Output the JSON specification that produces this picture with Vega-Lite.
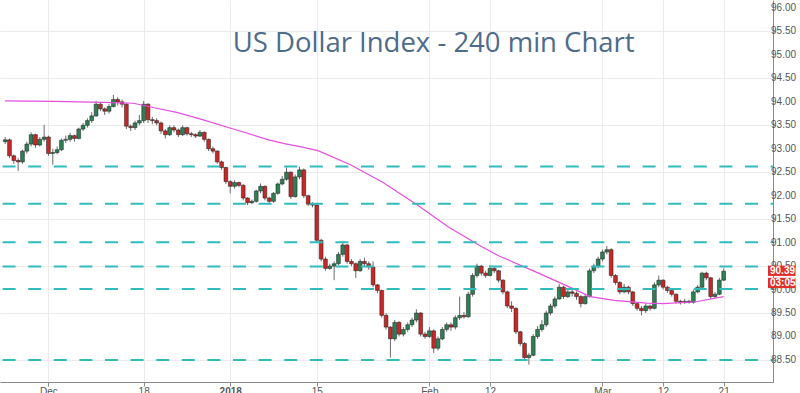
{
  "$schema": "https://vega.github.io/schema/vega-lite/v6.json",
  "width": 773,
  "height": 382,
  "autosize": {"type": "none"},
  "padding": {"left": 0, "top": 0, "right": 27, "bottom": 11},
  "background": "#ffffff",
  "config": {"view": {"stroke": null}, "font": "Liberation Sans"},
  "datasets": {
    "candles": [
      {"d":-5,"o":93.15,"h":93.25,"l":93.1,"c":93.19},
      {"d":-4.5,"o":93.19,"h":93.22,"l":92.8,"c":92.85},
      {"d":-4,"o":92.85,"h":92.88,"l":92.68,"c":92.75},
      {"d":-3.5,"o":92.75,"h":92.8,"l":92.53,"c":92.72},
      {"d":-3,"o":92.72,"h":92.98,"l":92.68,"c":92.95},
      {"d":-2.5,"o":92.95,"h":93.15,"l":92.9,"c":93.1},
      {"d":-2,"o":93.1,"h":93.35,"l":93.05,"c":93.3},
      {"d":-1.5,"o":93.3,"h":93.32,"l":93.02,"c":93.08},
      {"d":-1,"o":93.08,"h":93.25,"l":93.05,"c":93.2},
      {"d":-0.5,"o":93.2,"h":93.51,"l":93.15,"c":93.25},
      {"d":0,"o":93.25,"h":93.28,"l":92.85,"c":92.9},
      {"d":0.5,"o":92.9,"h":93.0,"l":92.66,"c":92.92},
      {"d":1,"o":92.92,"h":93.05,"l":92.88,"c":92.98},
      {"d":1.5,"o":92.98,"h":93.22,"l":92.95,"c":93.18},
      {"d":2,"o":93.18,"h":93.28,"l":93.12,"c":93.2},
      {"d":2.5,"o":93.2,"h":93.34,"l":93.15,"c":93.28},
      {"d":3,"o":93.28,"h":93.3,"l":93.15,"c":93.22},
      {"d":3.5,"o":93.22,"h":93.45,"l":93.2,"c":93.42},
      {"d":4,"o":93.42,"h":93.55,"l":93.38,"c":93.5},
      {"d":4.5,"o":93.5,"h":93.65,"l":93.45,"c":93.6},
      {"d":5,"o":93.6,"h":93.78,"l":93.55,"c":93.7},
      {"d":5.5,"o":93.7,"h":94.02,"l":93.68,"c":93.95},
      {"d":6,"o":93.95,"h":94.0,"l":93.8,"c":93.85},
      {"d":6.5,"o":93.85,"h":93.88,"l":93.72,"c":93.8},
      {"d":7,"o":93.8,"h":93.95,"l":93.75,"c":93.9},
      {"d":7.5,"o":93.9,"h":94.15,"l":93.88,"c":94.05},
      {"d":8,"o":94.05,"h":94.1,"l":93.92,"c":94.0},
      {"d":8.5,"o":94.0,"h":94.05,"l":93.88,"c":93.95},
      {"d":9,"o":93.95,"h":93.98,"l":93.42,"c":93.48},
      {"d":9.5,"o":93.48,"h":93.52,"l":93.38,"c":93.45},
      {"d":10,"o":93.45,"h":93.6,"l":93.4,"c":93.55},
      {"d":10.5,"o":93.55,"h":93.72,"l":93.5,"c":93.6},
      {"d":11,"o":93.6,"h":94.02,"l":93.55,"c":93.95},
      {"d":11.5,"o":93.95,"h":93.97,"l":93.55,"c":93.62},
      {"d":12,"o":93.62,"h":93.68,"l":93.52,"c":93.6},
      {"d":12.5,"o":93.6,"h":93.65,"l":93.5,"c":93.55},
      {"d":13,"o":93.55,"h":93.58,"l":93.32,"c":93.38},
      {"d":13.5,"o":93.38,"h":93.42,"l":93.22,"c":93.3},
      {"d":14,"o":93.3,"h":93.5,"l":93.27,"c":93.45},
      {"d":14.5,"o":93.45,"h":93.5,"l":93.35,"c":93.4},
      {"d":15,"o":93.4,"h":93.43,"l":93.25,"c":93.3},
      {"d":15.5,"o":93.3,"h":93.5,"l":93.27,"c":93.45},
      {"d":16,"o":93.45,"h":93.47,"l":93.28,"c":93.32},
      {"d":16.5,"o":93.32,"h":93.36,"l":93.25,"c":93.3},
      {"d":17,"o":93.3,"h":93.33,"l":93.23,"c":93.27},
      {"d":17.5,"o":93.27,"h":93.4,"l":93.25,"c":93.35},
      {"d":18,"o":93.35,"h":93.37,"l":93.15,"c":93.2},
      {"d":18.5,"o":93.2,"h":93.22,"l":92.95,"c":93.0},
      {"d":19,"o":93.0,"h":93.05,"l":92.9,"c":92.95},
      {"d":19.5,"o":92.95,"h":92.97,"l":92.68,"c":92.72},
      {"d":20,"o":92.72,"h":92.75,"l":92.55,"c":92.6},
      {"d":20.5,"o":92.6,"h":92.62,"l":92.25,"c":92.3},
      {"d":21,"o":92.3,"h":92.33,"l":92.05,"c":92.2},
      {"d":21.5,"o":92.2,"h":92.33,"l":92.15,"c":92.28},
      {"d":22,"o":92.28,"h":92.3,"l":92.18,"c":92.22},
      {"d":22.5,"o":92.22,"h":92.25,"l":91.9,"c":91.95},
      {"d":23,"o":91.95,"h":91.97,"l":91.8,"c":91.85},
      {"d":23.5,"o":91.85,"h":91.92,"l":91.82,"c":91.88},
      {"d":24,"o":91.88,"h":92.13,"l":91.85,"c":92.1},
      {"d":24.5,"o":92.1,"h":92.26,"l":92.05,"c":92.2},
      {"d":25,"o":92.2,"h":92.22,"l":91.9,"c":91.95},
      {"d":25.5,"o":91.95,"h":91.98,"l":91.83,"c":91.88},
      {"d":26,"o":91.88,"h":92.08,"l":91.85,"c":92.05},
      {"d":26.5,"o":92.05,"h":92.28,"l":92.02,"c":92.25},
      {"d":27,"o":92.25,"h":92.42,"l":92.22,"c":92.35},
      {"d":27.5,"o":92.35,"h":92.6,"l":92.32,"c":92.5},
      {"d":28,"o":92.5,"h":92.52,"l":91.93,"c":91.98},
      {"d":28.5,"o":91.98,"h":92.45,"l":91.96,"c":92.4},
      {"d":29,"o":92.4,"h":92.62,"l":92.35,"c":92.55},
      {"d":29.5,"o":92.55,"h":92.58,"l":91.95,"c":92.0},
      {"d":30,"o":92.0,"h":92.02,"l":91.78,"c":91.82},
      {"d":30.5,"o":91.82,"h":91.86,"l":91.75,"c":91.8},
      {"d":31,"o":91.8,"h":91.82,"l":91.0,"c":91.05},
      {"d":31.5,"o":91.05,"h":91.08,"l":90.6,"c":90.65},
      {"d":32,"o":90.65,"h":90.7,"l":90.4,"c":90.45},
      {"d":32.5,"o":90.45,"h":90.55,"l":90.42,"c":90.5},
      {"d":33,"o":90.5,"h":90.6,"l":90.2,"c":90.55},
      {"d":33.5,"o":90.55,"h":90.8,"l":90.52,"c":90.75},
      {"d":34,"o":90.75,"h":91.02,"l":90.7,"c":90.95},
      {"d":34.5,"o":90.95,"h":90.97,"l":90.55,"c":90.6},
      {"d":35,"o":90.6,"h":90.65,"l":90.5,"c":90.55},
      {"d":35.5,"o":90.55,"h":90.58,"l":90.25,"c":90.4},
      {"d":36,"o":90.4,"h":90.65,"l":90.38,"c":90.6},
      {"d":36.5,"o":90.6,"h":90.68,"l":90.5,"c":90.55},
      {"d":37,"o":90.55,"h":90.6,"l":90.42,"c":90.48},
      {"d":37.5,"o":90.48,"h":90.6,"l":90.05,"c":90.1},
      {"d":38,"o":90.1,"h":90.12,"l":89.92,"c":89.98},
      {"d":38.5,"o":89.98,"h":90.0,"l":89.4,"c":89.45},
      {"d":39,"o":89.45,"h":89.5,"l":89.15,"c":89.2},
      {"d":39.5,"o":89.2,"h":89.22,"l":88.55,"c":88.95},
      {"d":40,"o":88.95,"h":89.35,"l":88.9,"c":89.3},
      {"d":40.5,"o":89.3,"h":89.33,"l":89.0,"c":89.05},
      {"d":41,"o":89.05,"h":89.2,"l":89.0,"c":89.15},
      {"d":41.5,"o":89.15,"h":89.3,"l":89.1,"c":89.25},
      {"d":42,"o":89.25,"h":89.4,"l":89.2,"c":89.35},
      {"d":42.5,"o":89.35,"h":89.58,"l":89.3,"c":89.5},
      {"d":43,"o":89.5,"h":89.52,"l":89.0,"c":89.05},
      {"d":43.5,"o":89.05,"h":89.1,"l":88.95,"c":89.0},
      {"d":44,"o":89.0,"h":89.2,"l":88.97,"c":89.12},
      {"d":44.5,"o":89.12,"h":89.15,"l":88.65,"c":88.75},
      {"d":45,"o":88.75,"h":89.0,"l":88.7,"c":88.95},
      {"d":45.5,"o":88.95,"h":89.2,"l":88.92,"c":89.15},
      {"d":46,"o":89.15,"h":89.3,"l":89.1,"c":89.25},
      {"d":46.5,"o":89.25,"h":89.3,"l":89.12,"c":89.2},
      {"d":47,"o":89.2,"h":89.45,"l":89.15,"c":89.4},
      {"d":47.5,"o":89.4,"h":89.85,"l":89.35,"c":89.45},
      {"d":48,"o":89.45,"h":89.52,"l":89.38,"c":89.42},
      {"d":48.5,"o":89.42,"h":89.95,"l":89.4,"c":89.9},
      {"d":49,"o":89.9,"h":90.35,"l":89.85,"c":90.3},
      {"d":49.5,"o":90.3,"h":90.55,"l":90.25,"c":90.5},
      {"d":50,"o":90.5,"h":90.52,"l":90.3,"c":90.35},
      {"d":50.5,"o":90.35,"h":90.4,"l":90.25,"c":90.3},
      {"d":51,"o":90.3,"h":90.52,"l":90.28,"c":90.45},
      {"d":51.5,"o":90.45,"h":90.5,"l":90.35,"c":90.4},
      {"d":52,"o":90.4,"h":90.42,"l":90.15,"c":90.2},
      {"d":52.5,"o":90.2,"h":90.22,"l":89.9,"c":89.95},
      {"d":53,"o":89.95,"h":89.98,"l":89.6,"c":89.65},
      {"d":53.5,"o":89.65,"h":89.75,"l":89.52,"c":89.6},
      {"d":54,"o":89.6,"h":89.62,"l":89.05,"c":89.1},
      {"d":54.5,"o":89.1,"h":89.12,"l":88.8,"c":88.85},
      {"d":55,"o":88.85,"h":88.88,"l":88.5,"c":88.55},
      {"d":55.5,"o":88.55,"h":88.65,"l":88.4,"c":88.6},
      {"d":56,"o":88.6,"h":89.05,"l":88.58,"c":89.0},
      {"d":56.5,"o":89.0,"h":89.22,"l":88.95,"c":89.15},
      {"d":57,"o":89.15,"h":89.35,"l":89.1,"c":89.25},
      {"d":57.5,"o":89.25,"h":89.55,"l":89.2,"c":89.5},
      {"d":58,"o":89.5,"h":89.7,"l":89.45,"c":89.65},
      {"d":58.5,"o":89.65,"h":89.85,"l":89.6,"c":89.8},
      {"d":59,"o":89.8,"h":90.12,"l":89.78,"c":90.05},
      {"d":59.5,"o":90.05,"h":90.08,"l":89.8,"c":89.85},
      {"d":60,"o":89.85,"h":90.0,"l":89.82,"c":89.95},
      {"d":60.5,"o":89.95,"h":90.0,"l":89.85,"c":89.92},
      {"d":61,"o":89.92,"h":89.96,"l":89.78,"c":89.85},
      {"d":61.5,"o":89.85,"h":89.88,"l":89.62,"c":89.7},
      {"d":62,"o":89.7,"h":89.9,"l":89.68,"c":89.85},
      {"d":62.5,"o":89.85,"h":90.45,"l":89.83,"c":90.4},
      {"d":63,"o":90.4,"h":90.55,"l":90.35,"c":90.5},
      {"d":63.5,"o":90.5,"h":90.7,"l":90.45,"c":90.65},
      {"d":64,"o":90.65,"h":90.85,"l":90.6,"c":90.8},
      {"d":64.5,"o":90.8,"h":90.93,"l":90.75,"c":90.85},
      {"d":65,"o":90.85,"h":90.88,"l":90.25,"c":90.3},
      {"d":65.5,"o":90.3,"h":90.33,"l":90.1,"c":90.15},
      {"d":66,"o":90.15,"h":90.18,"l":89.9,"c":89.95},
      {"d":66.5,"o":89.95,"h":90.12,"l":89.92,"c":90.05},
      {"d":67,"o":90.05,"h":90.08,"l":89.9,"c":89.95},
      {"d":67.5,"o":89.95,"h":89.97,"l":89.65,"c":89.7},
      {"d":68,"o":89.7,"h":89.72,"l":89.55,"c":89.6},
      {"d":68.5,"o":89.6,"h":89.65,"l":89.45,"c":89.55},
      {"d":69,"o":89.55,"h":89.7,"l":89.5,"c":89.65},
      {"d":69.5,"o":89.65,"h":89.68,"l":89.55,"c":89.6},
      {"d":70,"o":89.6,"h":90.15,"l":89.58,"c":90.1},
      {"d":70.5,"o":90.1,"h":90.3,"l":90.05,"c":90.2},
      {"d":71,"o":90.2,"h":90.22,"l":90.0,"c":90.05},
      {"d":71.5,"o":90.05,"h":90.08,"l":89.93,"c":89.98},
      {"d":72,"o":89.98,"h":90.02,"l":89.85,"c":89.9},
      {"d":72.5,"o":89.9,"h":89.92,"l":89.7,"c":89.75},
      {"d":73,"o":89.75,"h":89.78,"l":89.68,"c":89.72},
      {"d":73.5,"o":89.72,"h":89.8,"l":89.7,"c":89.75},
      {"d":74,"o":89.75,"h":89.78,"l":89.7,"c":89.73},
      {"d":74.5,"o":89.73,"h":90.0,"l":89.7,"c":89.95},
      {"d":75,"o":89.95,"h":90.1,"l":89.92,"c":90.05},
      {"d":75.5,"o":90.05,"h":90.38,"l":90.02,"c":90.35},
      {"d":76,"o":90.35,"h":90.38,"l":90.2,"c":90.25},
      {"d":76.5,"o":90.25,"h":90.27,"l":89.8,"c":89.85},
      {"d":77,"o":89.85,"h":89.95,"l":89.82,"c":89.9},
      {"d":77.5,"o":89.9,"h":90.25,"l":89.88,"c":90.2},
      {"d":78,"o":90.2,"h":90.45,"l":90.18,"c":90.39}
    ],
    "ma": [
      {"d":-5.02,"v":94.02},{"d":0.68,"v":94.01},{"d":6.39,"v":93.99},{"d":9.81,"v":93.97},
      {"d":12.09,"v":93.88},{"d":14.94,"v":93.77},{"d":17.79,"v":93.62},{"d":21.55,"v":93.41},
      {"d":25.43,"v":93.19},{"d":27.26,"v":93.11},{"d":29.19,"v":93.04},{"d":31.13,"v":92.96},
      {"d":34.89,"v":92.66},{"d":38.65,"v":92.28},{"d":42.53,"v":91.81},{"d":46.29,"v":91.32},
      {"d":50.06,"v":90.91},{"d":51.99,"v":90.72},{"d":55.76,"v":90.42},{"d":59.63,"v":90.1},
      {"d":62.6,"v":89.85},{"d":65.34,"v":89.77},{"d":69.1,"v":89.71},{"d":71.04,"v":89.7},
      {"d":74.8,"v":89.74},{"d":78.0,"v":89.85}
    ],
    "levels": [
      {"p":92.62},{"p":91.83},{"p":91.01},{"p":90.49},{"p":90.01},{"p":88.5}
    ],
    "yticks": [
      {"t":88.5},{"t":89},{"t":89.5},{"t":90},{"t":90.5},{"t":91},{"t":91.5},{"t":92},
      {"t":92.5},{"t":93},{"t":93.5},{"t":94},{"t":94.5},{"t":95},{"t":95.5},{"t":96}
    ],
    "tags": [
      {"x1":83.12,"x2":86.3,"y1":90.29,"y2":90.51,"ty":90.40,"label":"90.39"},
      {"x1":83.12,"x2":86.3,"y1":90.03,"y2":90.25,"ty":90.14,"label":"03:05:23"}
    ]
  },
  "layer": [
    {
      "data": {"name": "candles"},
      "mark": {"type": "rule", "color": "#6b6b6b", "strokeWidth": 1},
      "encoding": {
        "x": {"field": "d", "type": "quantitative",
          "scale": {"domain": [-5.02, 83.12], "nice": false, "zero": false},
          "axis": {
            "values": [0, 11, 21, 31, 44, 51, 64, 71, 78],
            "labelExpr": "datum.value == 0 ? 'Dec' : datum.value == 11 ? '18' : datum.value == 21 ? '2018' : datum.value == 31 ? '15' : datum.value == 44 ? 'Feb' : datum.value == 51 ? '12' : datum.value == 64 ? 'Mar' : datum.value == 71 ? '12' : '21'",
            "labelFontWeight": {"condition": {"test": "datum.value == 21", "value": "bold"}, "value": "normal"},
            "title": null, "grid": true, "gridColor": "#ebebeb", "gridWidth": 1,
            "domainColor": "#8a8a8a", "tickColor": "#8a8a8a", "tickSize": 4,
            "labelPadding": 0, "labelFontSize": 10, "labelColor": "#555555",
            "labelFlush": false, "labelOverlap": false
          }
        },
        "y": {"field": "l", "type": "quantitative",
          "scale": {"domain": [88.03, 96.17], "nice": false, "zero": false},
          "axis": {
            "orient": "right",
            "values": [88.5, 89, 89.5, 90, 90.5, 91, 91.5, 92, 92.5, 93, 93.5, 94, 94.5, 95, 95.5, 96],
            "labels": false, "title": null, "grid": true, "gridColor": "#ebebeb",
            "domainColor": "#8a8a8a", "tickColor": "#8a8a8a", "tickSize": 2
          }
        },
        "y2": {"field": "h"}
      }
    },
    {
      "data": {"name": "candles"},
      "mark": {"type": "bar", "size": 3.8, "stroke": "#1a1a1a", "strokeWidth": 0.5},
      "encoding": {
        "x": {"field": "d", "type": "quantitative"},
        "y": {"field": "o", "type": "quantitative"},
        "y2": {"field": "c"},
        "color": {"condition": {"test": "datum.c >= datum.o", "value": "#2f7f55"}, "value": "#c62828"}
      }
    },
    {
      "data": {"name": "ma"},
      "mark": {"type": "line", "color": "#e64ee0", "strokeWidth": 1.2},
      "encoding": {
        "x": {"field": "d", "type": "quantitative"},
        "y": {"field": "v", "type": "quantitative"}
      }
    },
    {
      "data": {"name": "levels"},
      "mark": {"type": "rule", "color": "#30bcbc", "strokeWidth": 2, "strokeDash": [13, 12.6], "strokeDashOffset": 10.6},
      "encoding": {
        "y": {"field": "p", "type": "quantitative"}
      }
    },
    {
      "data": {"name": "yticks"},
      "mark": {"type": "text", "fontSize": 10, "color": "#555555", "align": "left", "baseline": "middle"},
      "encoding": {
        "x": {"datum": 83.47},
        "y": {"field": "t", "type": "quantitative"},
        "text": {"field": "t", "type": "quantitative", "format": ".2f"}
      }
    },
    {
      "data": {"values": [{"t": "US Dollar Index - 240 min Chart"}]},
      "mark": {"type": "text", "font": "Open Sans", "fontSize": 27.5, "color": "#4e6b8a", "align": "center", "baseline": "alphabetic"},
      "encoding": {
        "x": {"datum": 44.5},
        "y": {"datum": 95.07},
        "text": {"field": "t"}
      }
    },
    {
      "data": {"name": "tags"},
      "mark": {"type": "rect", "color": "#e0302a"},
      "encoding": {
        "x": {"field": "x1", "type": "quantitative"},
        "x2": {"field": "x2"},
        "y": {"field": "y1", "type": "quantitative"},
        "y2": {"field": "y2"}
      }
    },
    {
      "data": {"name": "tags"},
      "mark": {"type": "text", "color": "#ffffff", "fontSize": 10, "fontWeight": "bold", "align": "left", "baseline": "middle", "dx": 2},
      "encoding": {
        "x": {"field": "x1", "type": "quantitative"},
        "y": {"field": "ty", "type": "quantitative"},
        "text": {"field": "label"}
      }
    }
  ]
}
